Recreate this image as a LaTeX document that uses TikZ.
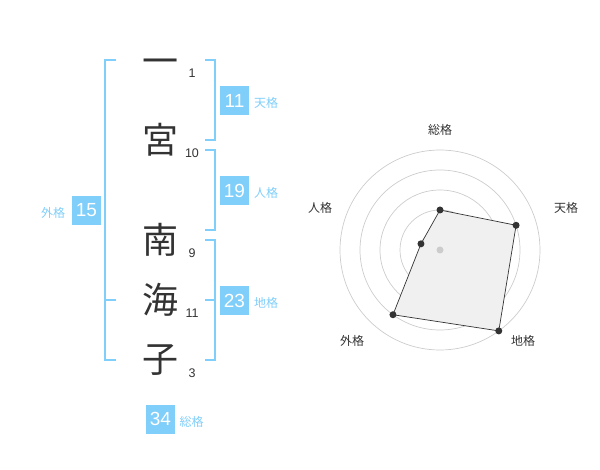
\documentclass[tikz,border=0pt]{standalone}
\usepackage{fontspec}
\setmainfont{Liberation Sans}
\newfontfamily\cjk{Noto Sans CJK JP}
\definecolor{kakublue}{RGB}{128,206,250}
\definecolor{inkgray}{RGB}{51,51,51}

\begin{document}
\begin{tikzpicture}[x=1pt,y=-1pt,font=\cjk\fontsize{12}{12}\selectfont,
kanji/.style={font=\cjk\fontsize{36}{36}\selectfont,text=inkgray,inner sep=0pt},
strokes/.style={font=\fontsize{12.5}{12.5}\selectfont,text=inkgray,inner sep=0pt},
score/.style={fill=kakublue,text=white,minimum size=29pt,inner sep=0pt,font=\fontsize{19}{19}\selectfont},
kaku/.style={text=kakublue,inner sep=0pt},
bracket/.style={draw=kakublue,line width=1.5pt},
ring/.style={draw=black!20,line width=0.7pt},
dot/.style={circle,fill=inkgray,minimum size=7pt,inner sep=0pt}]
\useasboundingbox (0,0) rectangle (600,470);
%\draw[help lines] (0,0) grid (600,470);
% name, strokes
\node (k1) [kanji] at (160,67) {一};
\node (k2) [kanji] at (160,140) {宮};
\node (k3) [kanji] at (160,240) {南};
\node (k4) [kanji] at (160,300) {海};
\node (k5) [kanji] at (160,360) {子};
\node (n1) [strokes] at (192,73) {1};
\node (n2) [strokes] at (192,153) {10};
\node (n3) [strokes] at (192,253) {9};
\node (n4) [strokes] at (192,313) {11};
\node (n5) [strokes] at (192,373) {3};
% brackets
\draw[bracket] (116,60) -- (105,60) -- (105,360) -- (116,360);
\draw[bracket] (105,300) -- (116,300);
\draw[bracket] (205,60) -- (215,60) -- (215,140) -- (205,140);
\draw[bracket] (205,150) -- (215,150) -- (215,230) -- (205,230);
\draw[bracket] (205,240) -- (215,240) -- (215,360) -- (205,360);
\draw[bracket] (215,300) -- (205,300);
% scores
\node (ten) [score] at (234.5,100.5) {11};
\node (jin) [score] at (234.5,190.5) {19};
\node (gai) [score] at (86.5,210.5) {15};
\node (chi) [score] at (234.5,300.5) {23};
\node (sou) [score] at (160.5,419) {34};
\node (tenl) [kaku] at (266,103) {天格};
\node (jinl) [kaku] at (266,193) {人格};
\node (gail) [kaku] at (53,213) {外格};
\node (chil) [kaku] at (266,303) {地格};
\node (soul) [kaku] at (191.5,422) {総格};
% radar
\coordinate (c) at (440,250);
\draw[ring] (c) circle[radius=20pt];
\draw[ring] (c) circle[radius=40pt];
\draw[ring] (c) circle[radius=60pt];
\draw[ring] (c) circle[radius=80pt];
\draw[ring] (c) circle[radius=100pt];
\coordinate (psou) at ([shift={(90:40pt)}]c);
\coordinate (pten) at ([shift={(18:80pt)}]c);
\coordinate (pchi) at ([shift={(-54:100pt)}]c);
\coordinate (pgai) at ([shift={(-126:80pt)}]c);
\coordinate (pjin) at ([shift={(162:20pt)}]c);
\draw[fill=black!6,draw=inkgray,line width=0.7pt] (psou) -- (pten) -- (pchi) -- (pgai) -- (pjin) -- cycle;
\node [circle,fill=black!20,minimum size=7pt,inner sep=0pt] at (c) {};
\node (dsou) [dot] at (psou) {};
\node (dten) [dot] at (pten) {};
\node (dchi) [dot] at (pchi) {};
\node (dgai) [dot] at (pgai) {};
\node (djin) [dot] at (pjin) {};
\node (rsou) [text=inkgray] at (440,130) {総格};
\node (rten) [text=inkgray] at (566,208) {天格};
\node (rchi) [text=inkgray] at (523,341) {地格};
\node (rgai) [text=inkgray] at (352,341) {外格};
\node (rjin) [text=inkgray] at (320,208) {人格};
\end{tikzpicture}
\end{document}
